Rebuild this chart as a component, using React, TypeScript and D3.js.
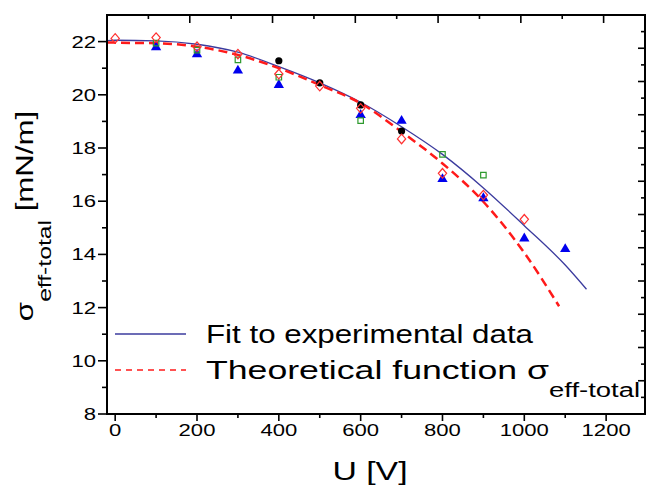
import React from 'react';
import * as d3 from 'd3';

const W = 646;
const H = 495;

// measured points, U [V] and sigma [mN/m]
const uCircle = [400, 500, 600, 700];
const sCircle = [21.28, 20.45, 19.62, 18.64];
const uSquare = [100, 200, 300, 400, 600, 800, 900];
const sSquare = [21.94, 21.68, 21.31, 20.66, 19.03, 17.76, 16.98];
const uTriangle = [100, 200, 300, 400, 600, 700, 800, 900, 1000, 1100];
const sTriangle = [21.79, 21.52, 20.91, 20.37, 19.24, 19.02, 16.83, 16.11, 14.6, 14.2];
const uDiamond = [0, 100, 200, 300, 400, 500, 600, 700, 800, 900, 1000];
const sDiamond = [22.12, 22.15, 21.81, 21.53, 20.78, 20.33, 19.49, 18.34, 17.05, 16.23, 15.32];

// curves
const uFit = [-20, 0, 100, 200, 300, 400, 500, 600, 700, 800, 900, 1000, 1100, 1152];
const sFit = [22.04, 22.05, 22.03, 21.9, 21.6, 21.06, 20.45, 19.72, 18.8, 17.76, 16.5, 15.08, 13.6, 12.69];
const uTheory = [-20, 0, 100, 200, 300, 400, 500, 600, 700, 800, 900, 1000, 1085];
const sTheory = [21.97, 21.96, 21.94, 21.81, 21.5, 21.0, 20.37, 19.68, 18.61, 17.42, 15.98, 14.06, 12.05];

// axis ticks
const xMajor = [0, 200, 400, 600, 800, 1000, 1200];
const xMinor = [100, 300, 500, 700, 900, 1100];
const yMajor = [8, 10, 12, 14, 16, 18, 20, 22];
const yMinor = [9, 11, 13, 15, 17, 19, 21];
const topMajor = [200, 400, 600, 800, 1000, 1200];
const topMinor = [100, 300, 500, 700, 900, 1100];
const rightMajor = [1, 2, 3, 4, 5, 6, 7, 8, 9, 10, 11];
const rightMinor = [0.5, 1.5, 2.5, 3.5, 4.5, 5.5, 6.5, 7.5, 8.5, 9.5, 10.5, 11.5];

const left = 107;
const right = 645;
const top = 15;
const bottom = 414;
const SX = 1.3; // the figure's font is drawn wide
const FONT = 'Liberation Sans, Arial, sans-serif';

const diamondType = {
  draw(ctx: any, size: number) {
    const w = Math.sqrt(size) * 0.56;
    const h = w * 1.15;
    ctx.moveTo(0, -h);
    ctx.lineTo(w, 0);
    ctx.lineTo(0, h);
    ctx.lineTo(-w, 0);
    ctx.closePath();
  },
};

const App = () => {
  const x = d3.scaleLinear().domain([-20, 1295]).range([left, right]);
  const y = d3.scaleLinear().domain([8, 23]).range([bottom, top]);
  const xTop = d3.scaleLinear().domain([0, 1300]).range([left, right]);
  const yRight = d3.scaleLinear().domain([0, 12]).range([bottom, top]);

  const line = d3.line<number>().curve(d3.curveMonotoneX);

  const fitPath = line(uFit.map((u, i) => [x(u), y(sFit[i])]) as any);
  const theoryPath = line(uTheory.map((u, i) => [x(u), y(sTheory[i])]) as any);

  const tri = d3.symbol().type(d3.symbolTriangle).size(46)()!;
  const sq = d3.symbol().type(d3.symbolSquare).size(30)()!;
  const dia = d3.symbol().type(diamondType as any).size(55)()!;

  const wide = (tx: number, ty: number) => `translate(${tx},${ty}) scale(${SX},1)`;

  return (
    <svg
      width={W}
      height={H}
      style={{ position: 'absolute', left: 0, top: 0, background: '#fff' }}
      fontFamily={FONT}
    >
      <rect width={W} height={H} fill="#fff" />

      {/* curves */}
      <path d={fitPath!} fill="none" stroke="#3b3b9e" strokeWidth={1.3} />
      <path d={theoryPath!} fill="none" stroke="#ff1a1a" strokeWidth={2.5} strokeDasharray="9,5" />

      {/* markers */}
      {uTriangle.map((u, i) => (
        <path key={'t' + i} d={tri} transform={`translate(${x(u)},${y(sTriangle[i])})`} fill="#0000ee" />
      ))}
      {uSquare.map((u, i) => (
        <path key={'s' + i} d={sq} transform={`translate(${x(u)},${y(sSquare[i])})`} fill="none" stroke="#2e9a2e" strokeWidth={1.2} />
      ))}
      {uCircle.map((u, i) => (
        <circle key={'c' + i} cx={x(u)} cy={y(sCircle[i])} r={3.6} fill="#000" />
      ))}
      {uDiamond.map((u, i) => (
        <path key={'d' + i} d={dia} transform={`translate(${x(u)},${y(sDiamond[i])})`} fill="none" stroke="#ff3030" strokeWidth={1.2} />
      ))}

      {/* frame */}
      <rect x={left} y={top} width={right - left} height={bottom - top} fill="none" stroke="#000" strokeWidth={2} />

      {/* bottom axis */}
      {xMajor.map((v) => (
        <g key={'xm' + v}>
          <line x1={x(v)} x2={x(v)} y1={bottom} y2={bottom + 7} stroke="#000" strokeWidth={1.6} />
          <text transform={wide(x(v), 436)} textAnchor="middle" fontSize={17}>
            {v}
          </text>
        </g>
      ))}
      {xMinor.map((v) => (
        <line key={'xn' + v} x1={x(v)} x2={x(v)} y1={bottom} y2={bottom + 4} stroke="#000" strokeWidth={1.6} />
      ))}

      {/* left axis */}
      {yMajor.map((v) => (
        <g key={'ym' + v}>
          <line x1={left - 9} x2={left} y1={y(v)} y2={y(v)} stroke="#000" strokeWidth={1.6} />
          <text transform={wide(96, y(v) + 6)} textAnchor="end" fontSize={17}>
            {v}
          </text>
        </g>
      ))}
      {yMinor.map((v) => (
        <line key={'yn' + v} x1={left - 5} x2={left} y1={y(v)} y2={y(v)} stroke="#000" strokeWidth={1.6} />
      ))}

      {/* top axis */}
      {topMajor.map((v) => (
        <line key={'tm' + v} x1={xTop(v)} x2={xTop(v)} y1={top} y2={top + 8} stroke="#000" strokeWidth={1.6} />
      ))}
      {topMinor.map((v) => (
        <line key={'tn' + v} x1={xTop(v)} x2={xTop(v)} y1={top} y2={top + 4} stroke="#000" strokeWidth={1.6} />
      ))}

      {/* right axis */}
      {rightMajor.map((v) => (
        <line key={'rm' + v} x1={right - 7} x2={right} y1={yRight(v)} y2={yRight(v)} stroke="#000" strokeWidth={1.6} />
      ))}
      {rightMinor.map((v) => (
        <line key={'rn' + v} x1={right - 4} x2={right} y1={yRight(v)} y2={yRight(v)} stroke="#000" strokeWidth={1.6} />
      ))}

      {/* legend */}
      <line x1={115} x2={186} y1={334} y2={334} stroke="#3b3b9e" strokeWidth={1.3} />
      <text x={206} y={343} fontSize={25} textLength={327} lengthAdjust="spacingAndGlyphs">
        Fit to experimental data
      </text>
      <line x1={115} x2={186} y1={370} y2={370} stroke="#ff1a1a" strokeWidth={1.5} strokeDasharray="6,5" />
      <text x={206} y={379} fontSize={25} textLength={343} lengthAdjust="spacingAndGlyphs">
        Theoretical function σ
      </text>
      <text x={549} y={396.5} fontSize={20} textLength={91} lengthAdjust="spacingAndGlyphs">
        eff-total
      </text>

      {/* axis titles */}
      <text transform={wide(370, 480)} textAnchor="middle" fontSize={26}>
        U [V]
      </text>
      <text transform={`translate(33,216) rotate(-90) scale(${SX},1)`} textAnchor="middle" fontSize={24}>
        σ
        <tspan fontSize={19} dy={18}>
          eff-total
        </tspan>
        <tspan dy={-18}> [mN/m]</tspan>
      </text>
    </svg>
  );
};

export default App;
